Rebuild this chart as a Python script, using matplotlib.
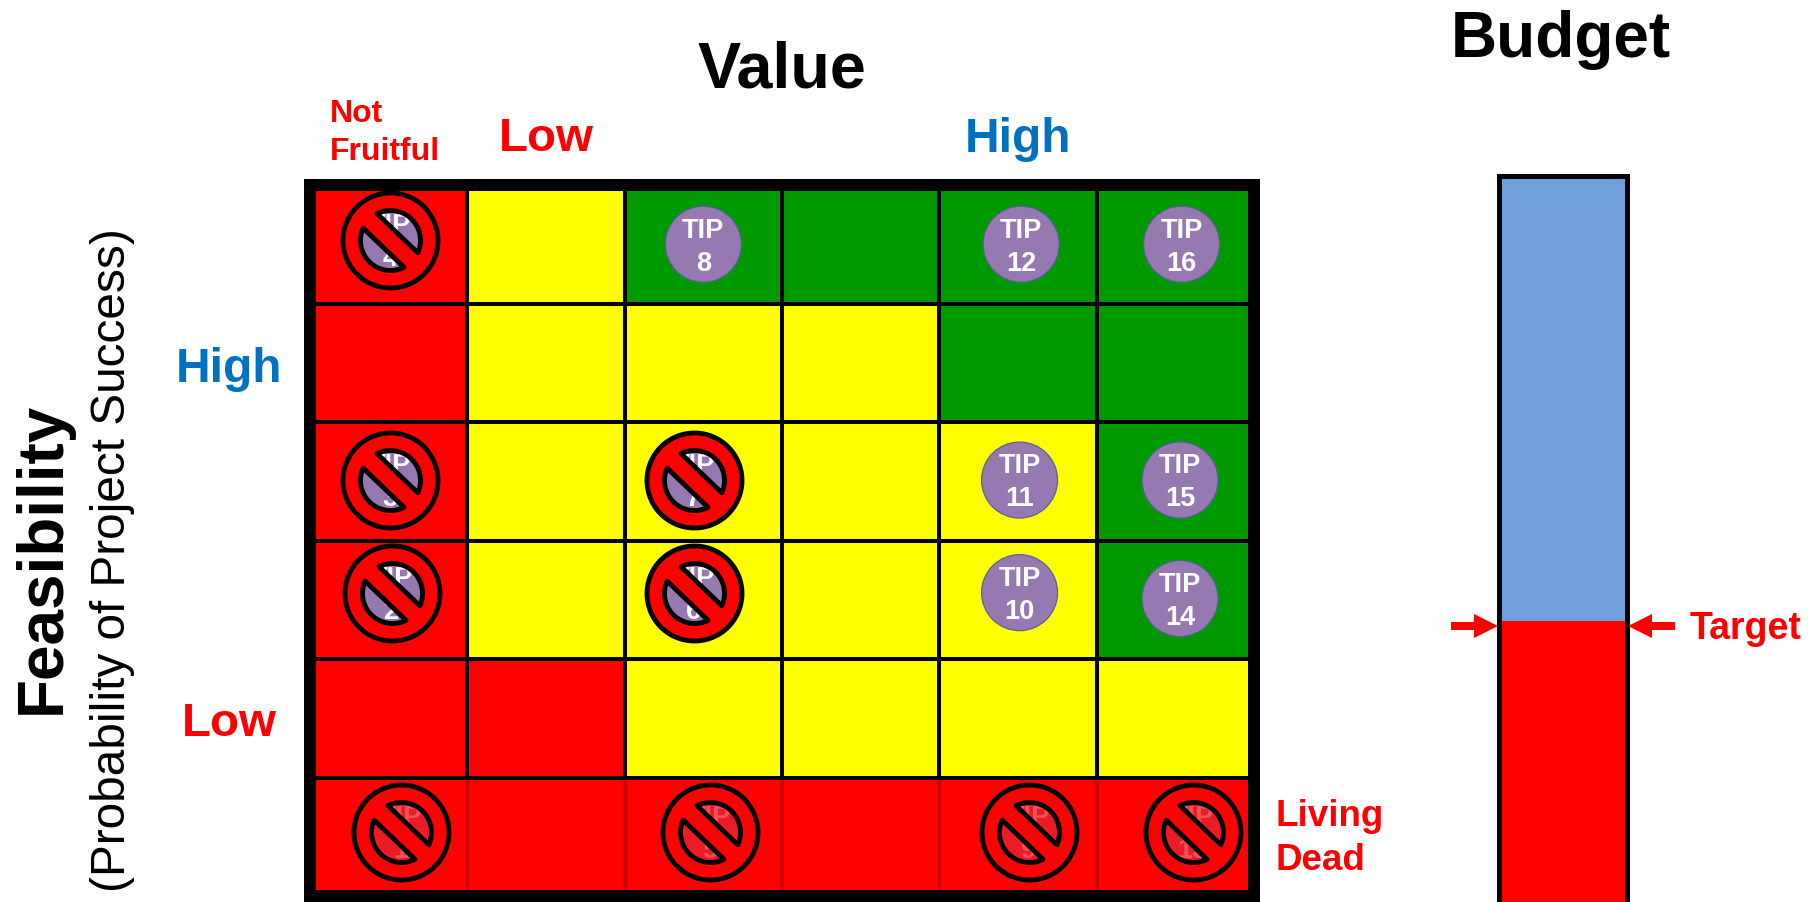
import numpy as np
import matplotlib

matplotlib.use("Agg")
import matplotlib.pyplot as plt
from matplotlib.colors import ListedColormap
from matplotlib.patches import FancyArrow
from matplotlib.path import Path

plt.rcParams["font.family"] = ["Liberation Sans", "DejaVu Sans"]

W, H = 1814, 902

# 0 = red, 1 = yellow, 2 = green
zone_levels = [
    [0, 1, 2, 2, 2, 2],
    [0, 1, 1, 1, 2, 2],
    [0, 1, 1, 1, 1, 2],
    [0, 1, 1, 1, 1, 2],
    [0, 0, 1, 1, 1, 1],
    [0, 0, 0, 0, 0, 0],
]
zone_colors = ["#FF0000", "#FFFF00", "#009900"]

tip_numbers = [8, 12, 16, 11, 15, 10, 14, 4, 3, 2, 7, 6, 1, 5, 9, 13]
tip_cols = [2.50, 4.52, 5.54, 4.51, 5.53, 4.51, 5.53, 0.51, 0.51, 0.52, 2.44, 2.44, 0.58, 2.54, 4.57, 5.61]
tip_rows = [0.50, 0.50, 0.50, 2.49, 2.49, 3.44, 3.49, 0.46, 2.49, 3.44, 2.49, 3.44, 5.46, 5.46, 5.46, 5.46]
tip_blocked = [0, 0, 0, 0, 0, 0, 0, 1, 1, 1, 1, 1, 2, 2, 2, 2]

budget_target = 0.387
budget_rest = 0.613


def px_axes(fig, left, top, right, bottom):
    return fig.add_axes([left / W, 1 - bottom / H, (right - left) / W, (bottom - top) / H])


def no_entry_path(hole=30.0, half_gap=9.4, outer=47.5):
    """Red disc with two half-disc windows, so the TIP shows through."""
    t = np.radians(np.linspace(0, 360, 121))
    paths = [Path(np.column_stack([np.cos(t), np.sin(t)]), closed=True)]
    spread = np.degrees(np.arccos(half_gap / hole))
    for mid in (45, 225):
        # clockwise, to cut a hole in the disc
        a = np.radians(np.linspace(mid + spread, mid - spread, 60))
        paths.append(Path(np.column_stack([np.cos(a), np.sin(a)]) * hole / outer, closed=True))
    return Path.make_compound_path(*paths)


fig = plt.figure(figsize=(W / 100, H / 100), dpi=100)

# Matrix ------------------------------------------------------------------------
ax = px_axes(fig, 310, 185, 1254, 896)
ax.pcolormesh(
    np.arange(7), np.arange(7), np.array(zone_levels),
    cmap=ListedColormap(zone_colors), vmin=0, vmax=2, zorder=1,
)
ax.set_xlim(0, 6)
ax.set_ylim(6, 0)
ax.set_xticks([])
ax.set_yticks([])
ax.vlines(np.arange(1, 6), 0, 5, color="black", lw=2.9, zorder=2)
ax.vlines(np.arange(1, 6), 5, 6, color="#CC0000", lw=2.9, zorder=2)
ax.hlines(np.arange(1, 6), 0, 6, color="black", lw=2.9, zorder=2)
for spine in ax.spines.values():
    spine.set_linewidth(8.64)
    spine.set_color("black")
    spine.set_zorder(6)

tip_cols = np.array(tip_cols)
tip_rows = np.array(tip_rows)
blocked = np.array(tip_blocked)
face = np.where(blocked == 2, "#EC1C24", "#9579B0")
edge = np.where(blocked == 2, "#EC1C24", "#5B5F9E")
ax.scatter(tip_cols, tip_rows, s=2994, c=face, edgecolors=edge, linewidths=0.9, zorder=3)
for number, col, row, state in zip(tip_numbers, tip_cols, tip_rows, blocked):
    ax.annotate(
        f"TIP\n{number}", xy=(col, row), xytext=(0, -2), textcoords="offset points",
        color="#F4515A" if state == 2 else "white", fontsize=19.5, fontweight="bold",
        ha="center", va="center", linespacing=1.35, zorder=4,
    )
sign = ax.scatter(
    tip_cols[blocked > 0], tip_rows[blocked > 0], s=4679, marker=no_entry_path(),
    facecolor="#FF0000", edgecolor="black", linewidths=3.5, zorder=5,
)
sign.set_joinstyle("round")

# Budget bar --------------------------------------------------------------------
bar_ax = px_axes(fig, 1499, 176, 1627, 902)
bar_ax.bar([0], [budget_target], width=1, color="#FF0000", zorder=1)
bar_ax.bar([0], [budget_rest], width=1, bottom=[budget_target], color="#6FA0DC", zorder=1)
bar_ax.set_xlim(-0.5, 0.5)
bar_ax.set_ylim(0, 1)
bar_ax.set_xticks([])
bar_ax.set_yticks([])
bar_ax.spines["bottom"].set_visible(False)
for side in ("left", "right", "top"):
    bar_ax.spines[side].set_linewidth(3.6)

# Labels and arrows, placed in figure pixels ------------------------------------
overlay = fig.add_axes([0, 0, 1, 1], zorder=10)
overlay.set_xlim(0, W)
overlay.set_ylim(H, 0)
overlay.axis("off")

RED = "#FF0000"
BLUE = "#0070C0"
bold = dict(fontweight="bold", ha="center", va="center")
overlay.text(782, 71, "Value", fontsize=46.5, color="black", **bold)
overlay.text(1561, 40, "Budget", fontsize=46, color="black", **bold)
overlay.text(546, 139, "Low", fontsize=34.2, color=RED, **bold)
overlay.text(1018, 139, "High", fontsize=34.5, color=BLUE, **bold)
overlay.text(229, 370, "High", fontsize=34.5, color=BLUE, **bold)
overlay.text(229, 724, "Low", fontsize=34.2, color=RED, **bold)
overlay.text(330, 114, "Not", fontsize=23, color=RED, fontweight="bold", ha="left", va="center")
overlay.text(330, 152, "Fruitful", fontsize=23, color=RED, fontweight="bold", ha="left", va="center")
overlay.text(1276, 817, "Living", fontsize=26.5, color=RED, fontweight="bold", ha="left", va="center")
overlay.text(1276, 861, "Dead", fontsize=26.5, color=RED, fontweight="bold", ha="left", va="center")
overlay.text(1690, 629, "Target", fontsize=27, color=RED, fontweight="bold", ha="left", va="center")
overlay.text(43, 558, "Feasibility", fontsize=46, color="black", rotation=90, **bold)
overlay.text(
    113, 560, "(Probability of Project Success)", fontsize=34.4, color="black",
    rotation=90, ha="center", va="center",
)
for x, dx in ((1451, 47), (1675, -47)):
    overlay.add_patch(
        FancyArrow(
            x, 626, dx, 0, width=8, head_width=24, head_length=24,
            length_includes_head=True, color=RED, lw=0,
        )
    )

plt.savefig("out.png", dpi=100)
